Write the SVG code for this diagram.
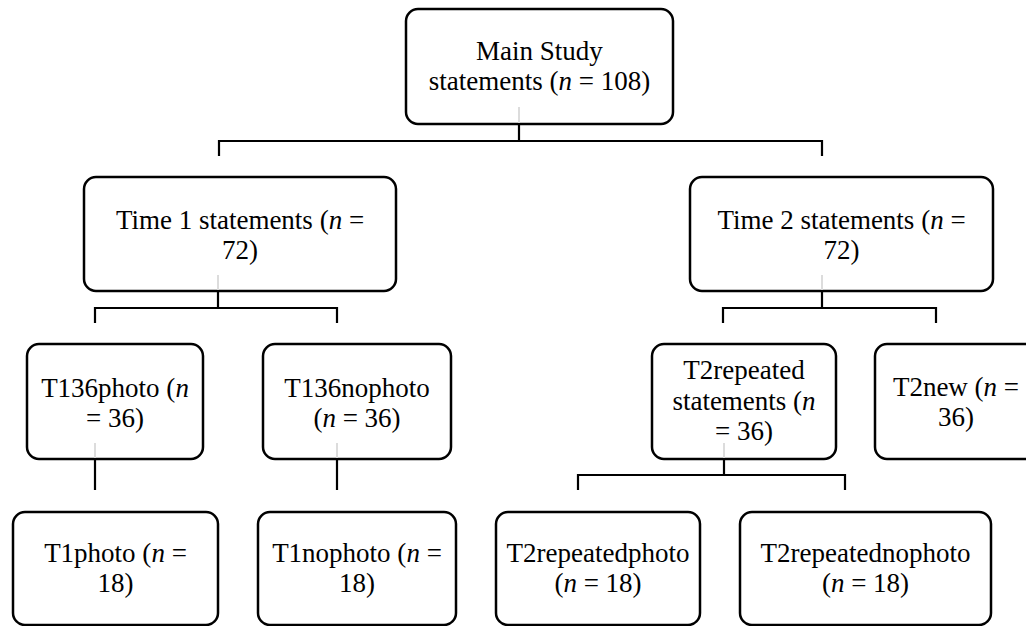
<svg xmlns="http://www.w3.org/2000/svg" width="1026" height="626" viewBox="0 0 1026 626">
<style>
.box{fill:#fff;stroke:#000;stroke-width:2.5}
.lbl{font-family:"Liberation Serif","Times New Roman",serif;font-size:27px;fill:#000;text-anchor:middle}
.i{font-style:italic}
.c{fill:none;stroke:#000;stroke-width:2.2}
.g{stroke:#dcdcdc;stroke-width:2}
</style>
<rect width="1026" height="626" fill="#fff"/>
<g id="node-main"><rect class="box" x="406" y="9" width="267" height="115" rx="12"/>
<text class="lbl" x="539.5" y="59.5">Main Study<tspan x="539.5" dy="30.5">statements (</tspan><tspan class="i">n</tspan> = 108)</text></g>
<g id="node-time1"><rect class="box" x="84" y="177" width="312" height="114" rx="12"/>
<text class="lbl" x="240" y="228.5">Time 1 statements (<tspan class="i">n</tspan> =<tspan x="240" dy="30.5">72)</tspan></text></g>
<g id="node-time2"><rect class="box" x="690" y="177" width="303" height="114" rx="12"/>
<text class="lbl" x="841.5" y="228.5">Time 2 statements (<tspan class="i">n</tspan> =<tspan x="841.5" dy="30.5">72)</tspan></text></g>
<g id="node-t136photo"><rect class="box" x="27" y="344" width="176" height="115" rx="12"/>
<text class="lbl" x="115" y="396.5">T136photo (<tspan class="i">n</tspan><tspan x="115" dy="30.5">= 36)</tspan></text></g>
<g id="node-t136nophoto"><rect class="box" x="263" y="344" width="188" height="115" rx="12"/>
<text class="lbl" x="357" y="396.5">T136nophoto<tspan x="357" dy="30.5">(</tspan><tspan class="i">n</tspan> = 36)</text></g>
<g id="node-t2repeated"><rect class="box" x="652" y="344" width="184" height="115" rx="12"/>
<text class="lbl" x="744" y="379">T2repeated<tspan x="744" dy="30.5">statements (</tspan><tspan class="i">n</tspan><tspan x="744" dy="30.5">= 36)</tspan></text></g>
<g id="node-t2new"><rect class="box" x="875" y="344" width="162" height="115" rx="12"/>
<text class="lbl" x="956" y="395.5">T2new (<tspan class="i">n</tspan> =<tspan x="956" dy="30.5">36)</tspan></text></g>
<g id="node-t1photo"><rect class="box" x="13" y="512" width="205" height="113" rx="12"/>
<text class="lbl" x="115.5" y="561.5">T1photo (<tspan class="i">n</tspan> =<tspan x="115.5" dy="30.5">18)</tspan></text></g>
<g id="node-t1nophoto"><rect class="box" x="258" y="512" width="198" height="113" rx="12"/>
<text class="lbl" x="357" y="561.5">T1nophoto (<tspan class="i">n</tspan> =<tspan x="357" dy="30.5">18)</tspan></text></g>
<g id="node-t2repeatedphoto"><rect class="box" x="496" y="512" width="204" height="113" rx="12"/>
<text class="lbl" x="598" y="561.5">T2repeatedphoto<tspan x="598" dy="30.5">(</tspan><tspan class="i">n</tspan> = 18)</text></g>
<g id="node-t2repeatednophoto"><rect class="box" x="740" y="512" width="251" height="113" rx="12"/>
<text class="lbl" x="865.5" y="561.5">T2repeatednophoto<tspan x="865.5" dy="30.5">(</tspan><tspan class="i">n</tspan> = 18)</text></g>
<g id="connectors">
<line class="g" x1="519" y1="107" x2="519" y2="123"/>
<line class="g" x1="218" y1="275" x2="218" y2="290"/>
<line class="g" x1="822" y1="275" x2="822" y2="290"/>
<line class="g" x1="95" y1="443" x2="95" y2="458"/>
<line class="g" x1="337" y1="443" x2="337" y2="458"/>
<line class="g" x1="724" y1="443" x2="724" y2="458"/>
<path class="c" d="M519 125V141M219 156V141H822V156"/>
<path class="c" d="M218 292V308M95 323V308H337V323"/>
<path class="c" d="M822 292V308M723 323V308H936V323"/>
<path class="c" d="M95 460V490M337 460V490"/>
<path class="c" d="M724 460V475M578 490V475H845V490"/>
</g>
</svg>
